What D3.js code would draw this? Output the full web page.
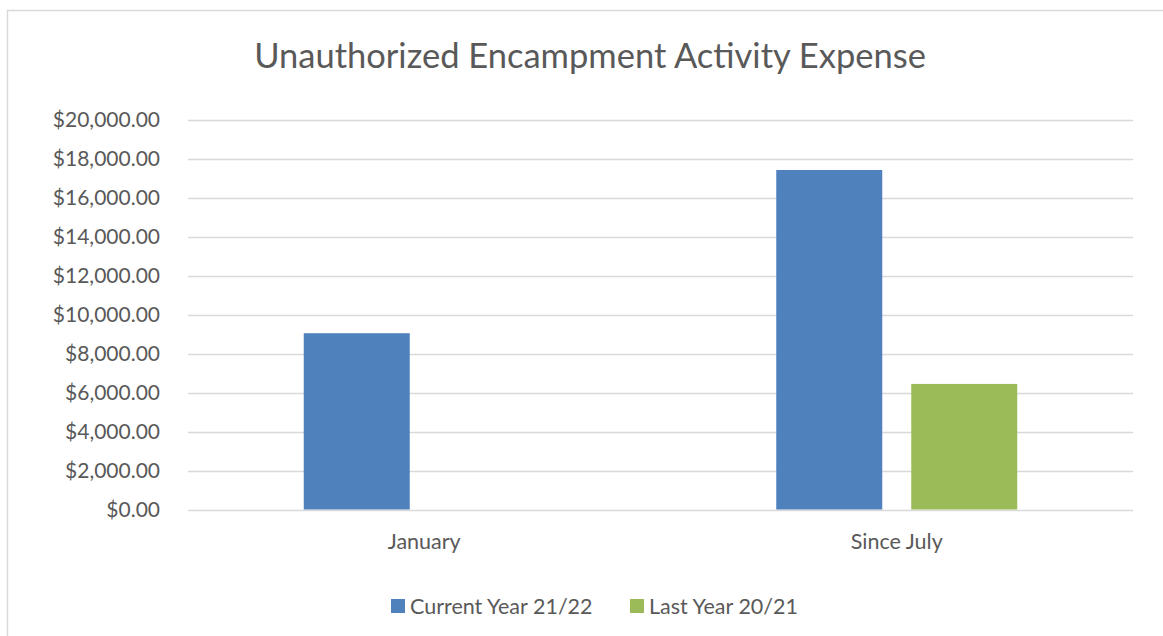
<!DOCTYPE html>
<html><head><meta charset="utf-8">
<script src="https://cdn.jsdelivr.net/npm/d3@7"></script>
<style>body{margin:0;background:#fff;} text{font-family:Lato, "Open Sans", sans-serif;}</style>
</head><body>
<svg id="chart" width="1163" height="636"></svg>
<script>
const categories = ["January", "Since July"];
const seriesNames = ["Current Year 21/22", "Last Year 20/21"];
const currentYear = [9040, 17410];
const lastYear = [0, 6440];
const yTicks = [0, 2000, 4000, 6000, 8000, 10000, 12000, 14000, 16000, 18000, 20000];
const colors = ["#4F81BD", "#9BBB59"];
const title = "Unauthorized Encampment Activity Expense";

const svg = d3.select("#chart");
const txt = "#595959";
// outer border
svg.append("rect").attr("x", 7.5).attr("y", 10.5).attr("width", 1170).attr("height", 640)
  .attr("fill", "#fff").attr("stroke", "#d9d9d9").attr("stroke-width", 1.5);

const m = {left: 188, right: 1133, top: 119.5, bottom: 509.5};
const x0 = d3.scaleBand().domain(categories).range([m.left, m.right]).padding(0);
const y = d3.scaleLinear().domain([0, 20000]).range([m.bottom, m.top]);
const bw = x0.bandwidth() * 106 / 472.5;
const gap = x0.bandwidth() * 29 / 472.5;

// gridlines
svg.append("g").selectAll("line").data(yTicks).join("line")
  .attr("x1", m.left).attr("x2", m.right)
  .attr("y1", d => Math.round(y(d)) + 0.5).attr("y2", d => Math.round(y(d)) + 0.5)
  .attr("stroke", "#d9d9d9").attr("stroke-width", 1.5);

// y axis labels
const fmt = d3.format("$,.2f");
svg.append("g").selectAll("text").data(yTicks).join("text")
  .attr("x", 160).attr("y", d => y(d)).attr("dy", "0.35em")
  .attr("text-anchor", "end").attr("fill", txt).attr("font-size", 21)
  .text(d => fmt(d));

// bars
const data = categories.map((c, i) => ({cat: c, vals: [currentYear[i], lastYear[i]]}));
const g = svg.append("g");
data.forEach(d => {
  const center = x0(d.cat) + x0.bandwidth() / 2;
  const start = center - (2 * bw + gap) / 2;
  d.vals.forEach((v, j) => {
    if (v <= 0) return;
    g.append("rect").attr("x", start + j * (bw + gap)).attr("y", y(v))
      .attr("width", bw).attr("height", y(0) - y(v)).attr("fill", colors[j]);
  });
});

// x labels
svg.append("g").selectAll("text").data(categories).join("text")
  .attr("x", d => x0(d) + x0.bandwidth() / 2).attr("y", 549)
  .attr("text-anchor", "middle").attr("fill", txt).attr("font-size", 21.5)
  .text(d => d);

// title
svg.append("text").attr("x", 590).attr("y", 68).attr("text-anchor", "middle")
  .attr("fill", txt).attr("font-size", 34.5).text(title);

// legend
const lx = [391, 630];
seriesNames.forEach((s, i) => {
  svg.append("rect").attr("x", lx[i]).attr("y", 599).attr("width", 14).attr("height", 14).attr("fill", colors[i]);
  svg.append("text").attr("x", lx[i] + 19).attr("y", 606).attr("dy", "0.35em")
    .attr("fill", txt).attr("font-size", 21.5).text(s);
});
</script>
</body></html>
